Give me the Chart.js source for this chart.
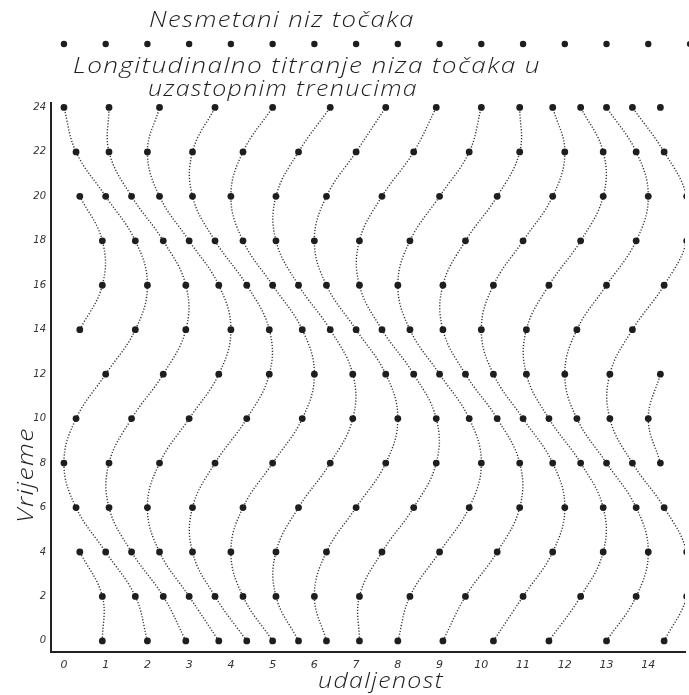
<!DOCTYPE html>
<html>
<head>
<meta charset="utf-8">
<script src="https://cdn.jsdelivr.net/npm/chart.js@4.4.1/dist/chart.umd.min.js"></script>
<style>
  html, body { margin: 0; padding: 0; background: #fff; }
</style>
</head>
<body>
<canvas id="waveChart" width="689" height="695"></canvas>
<script>
// trenuci (os vremena)
const times = [0, 2, 4, 6, 8, 10, 12, 14, 16, 18, 20, 22, 24];

// polozaj tocaka 0..15 u svakom trenutku, null = izvan slike
const row00 = [0.92, 2.00, 2.92, 3.71, 4.38, 5.00, 5.62, 6.29, 7.08, 8.00, 9.08, 10.29, 11.62, 13.00, 14.38, null];
const row02 = [0.92, 1.71, 2.38, 3.00, 3.62, 4.29, 5.08, 6.00, 7.08, 8.29, 9.62, 11.00, 12.38, 13.71, 14.92, null];
const row04 = [0.38, 1.00, 1.62, 2.29, 3.08, 4.00, 5.08, 6.29, 7.62, 9.00, 10.38, 11.71, 12.92, 14.00, 14.92, null];
const row06 = [null, 0.29, 1.08, 2.00, 3.08, 4.29, 5.62, 7.00, 8.38, 9.71, 10.92, 12.00, 12.92, 13.71, 14.38, null];
const row08 = [null, 0.00, 1.08, 2.29, 3.62, 5.00, 6.38, 7.71, 8.92, 10.00, 10.92, 11.71, 12.38, 13.00, 13.62, 14.29];
const row10 = [null, 0.29, 1.62, 3.00, 4.38, 5.71, 6.92, 8.00, 8.92, 9.71, 10.38, 11.00, 11.62, 12.29, 13.08, 14.00];
const row12 = [null, 1.00, 2.38, 3.71, 4.92, 6.00, 6.92, 7.71, 8.38, 9.00, 9.62, 10.29, 11.08, 12.00, 13.08, 14.29];
const row14 = [0.38, 1.71, 2.92, 4.00, 4.92, 5.71, 6.38, 7.00, 7.62, 8.29, 9.08, 10.00, 11.08, 12.29, 13.62, null];
const row16 = [0.92, 2.00, 2.92, 3.71, 4.38, 5.00, 5.62, 6.29, 7.08, 8.00, 9.08, 10.29, 11.62, 13.00, 14.38, null];
const row18 = [0.92, 1.71, 2.38, 3.00, 3.62, 4.29, 5.08, 6.00, 7.08, 8.29, 9.62, 11.00, 12.38, 13.71, 14.92, null];
const row20 = [0.38, 1.00, 1.62, 2.29, 3.08, 4.00, 5.08, 6.29, 7.62, 9.00, 10.38, 11.71, 12.92, 14.00, 14.92, null];
const row22 = [null, 0.29, 1.08, 2.00, 3.08, 4.29, 5.62, 7.00, 8.38, 9.71, 10.92, 12.00, 12.92, 13.71, 14.38, null];
const row24 = [null, 0.00, 1.08, 2.29, 3.62, 5.00, 6.38, 7.71, 8.92, 10.00, 10.92, 11.71, 12.38, 13.00, 13.62, 14.29];

// nesmetani niz (ravnotezni polozaji)
const undisturbed = [0, 1, 2, 3, 4, 5, 6, 7, 8, 9, 10, 11, 12, 13, 14, 15];

const xTicks = [0, 1, 2, 3, 4, 5, 6, 7, 8, 9, 10, 11, 12, 13, 14];
const yTicks = [0, 2, 4, 6, 8, 10, 12, 14, 16, 18, 20, 22, 24];

const rows = [row00, row02, row04, row06, row08, row10, row12, row14, row16, row18, row20, row22, row24];

const INK = "#1e1e1e";
const TEXT_FONT = 'italic 300 22px "Open Sans", "DejaVu Sans"';

function curve(points) {
    return {
        data: points,
        showLine: true,
        tension: 0.4,
        borderColor: "#333",
        borderWidth: 1.4,
        borderDash: [1.2, 1.8],
        pointRadius: 3.4,
        pointBackgroundColor: INK,
        pointBorderWidth: 0
    };
}

// svaka tocka dobiva svoju krivulju kroz vrijeme
const datasets = [];
for (let n = 0; n < row00.length; n++) {
    let run = [];
    rows.forEach((row, i) => {
        if (row[n] === null) {
            if (run.length) datasets.push(curve(run));
            run = [];
        } else {
            run.push({ x: row[n], y: times[i] });
        }
    });
    if (run.length) datasets.push(curve(run));
}

// siroka slova, razvucena na zadanu sirinu
function wideText(ctx, text, x, y, width) {
    ctx.save();
    ctx.letterSpacing = "1.2px";
    const w = ctx.measureText(text).width;
    ctx.translate(x, y);
    ctx.scale(width / w, 1);
    ctx.fillText(text, 0, 0);
    ctx.restore();
}

const textPlugin = {
    id: "textPlugin",
    afterDraw(chart) {
        const ctx = chart.ctx;
        const xScale = chart.scales.x;
        ctx.save();
        ctx.fillStyle = INK;

        // nesmetani niz iznad grafa
        undisturbed.forEach(v => {
            ctx.beginPath();
            ctx.arc(xScale.getPixelForValue(v), 44, 3.2, 0, Math.PI * 2);
            ctx.fill();
        });

        ctx.font = TEXT_FONT;
        ctx.textBaseline = "middle";
        ctx.textAlign = "left";
        wideText(ctx, "Nesmetani niz točaka", 149, 21, 266);
        wideText(ctx, "Longitudinalno titranje niza točaka u", 73, 67, 468);
        wideText(ctx, "uzastopnim trenucima", 148, 90, 270);
        wideText(ctx, "udaljenost", 318, 682, 126);

        ctx.translate(27, 523);
        ctx.rotate(-Math.PI / 2);
        wideText(ctx, "Vrijeme", 0, 0, 96);
        ctx.restore();
    }
};

const ctx = document.getElementById("waveChart").getContext("2d");
new Chart(ctx, {
    type: "scatter",
    data: { datasets: datasets },
    plugins: [textPlugin],
    options: {
        responsive: false,
        animation: false,
        layout: { padding: { top: 103, left: 0, right: 0, bottom: 0 } },
        plugins: {
            legend: { display: false },
            tooltip: { enabled: false }
        },
        scales: {
            x: {
                type: "linear",
                min: -0.31,
                max: 14.88,
                afterBuildTicks: s => { s.ticks = xTicks.map(v => ({ value: v })); },
                afterFit: s => { s.height = 43; },
                grid: { display: false, drawTicks: false },
                border: { display: true, color: "#222", width: 2 },
                ticks: {
                    color: "#333",
                    padding: 7,
                    font: { family: "DejaVu Sans", size: 11, style: "italic" }
                }
            },
            y: {
                type: "linear",
                min: -0.5,
                max: 24.2,
                afterBuildTicks: s => { s.ticks = yTicks.map(v => ({ value: v })); },
                afterFit: s => { s.width = 51; },
                grid: { display: false, drawTicks: false },
                border: { display: true, color: "#222", width: 2 },
                ticks: {
                    color: "#333",
                    padding: 5,
                    font: { family: "DejaVu Sans", size: 10, style: "italic" }
                }
            }
        }
    }
});
</script>
</body>
</html>
